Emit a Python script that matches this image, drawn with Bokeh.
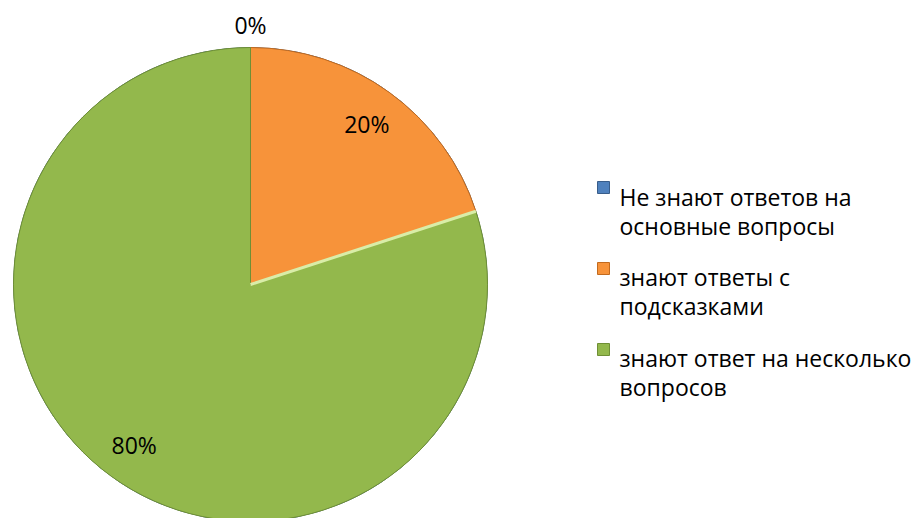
import math
import textwrap
from bokeh.plotting import figure
from bokeh.models import Range1d, ColumnDataSource
from bokeh.core.properties import value
from bokeh.embed import file_html
from bokeh.resources import INLINE

# ---- data ----
categories = [
    "Не знают ответов на основные вопросы",
    "знают ответы с подсказками",
    "знают ответ на несколько вопросов",
]
values = [0, 20, 80]
colors = ["#4F81BD", "#F7933A", "#93B84C"]
edge_colors = ["#385D8A", "#C26A1E", "#6F8F35"]

W, H = 913, 518
CX, CY, R = 250, H - 284, 237
FONT = value("Open Sans")

p = figure(width=W, height=H, x_range=Range1d(0, W), y_range=Range1d(0, H),
           output_backend="svg", toolbar_location=None, min_border=0)
p.axis.visible = False
p.grid.visible = False
p.outline_line_color = None
p.background_fill_color = "white"

total = float(sum(values))
start = math.pi / 2
starts, ends, mids = [], [], []
for v in values:
    sweep = 2 * math.pi * v / total
    starts.append(start)
    ends.append(start - sweep)
    mids.append(start - sweep / 2)
    start -= sweep

src = ColumnDataSource(dict(start=starts, end=ends, color=colors, edge=edge_colors,
                            x=[CX] * 3, y=[CY] * 3))
p.wedge(x="x", y="y", radius=R, start_angle="start", end_angle="end",
        direction="clock", fill_color="color", line_color="edge", line_width=1,
        source=src)

# light bevel highlight along the slice boundary
for a in ends[1:2]:
    p.line([CX, CX + R * math.cos(a)], [CY, CY + R * math.sin(a)],
           line_color="#D9EDA8", line_width=3)

# percentage labels
lx, ly, lt = [], [], []
for v, m in zip(values, mids):
    rr = R * (1.093 if v == 0 else 0.835)
    lx.append(CX + rr * math.cos(m))
    ly.append(CY + rr * math.sin(m))
    lt.append(f"{round(100 * v / total)}%")
p.text(x=lx, y=ly, text=lt, text_font=FONT, text_font_size="23px",
       text_align="center", text_baseline="middle", text_color="#000000")

# legend
tx, ty, tt = [], [], []
mx, my = [], []
for i, cat in enumerate(categories):
    base = H - (196 + i * 80.5)
    mx.append(603)
    my.append(H - (187 + i * 81))
    for j, line in enumerate(textwrap.wrap(cat, 24)):
        tx.append(619)
        ty.append(base - 29 * j)
        tt.append(line)
p.rect(x=mx, y=my, width=12, height=12, fill_color=colors, line_color=edge_colors,
       line_width=1)
p.text(x=tx, y=ty, text=tt, text_font=FONT, text_font_size="23px",
       text_align="left", text_baseline="alphabetic", text_color="#000000")

open("out.html", "w").write(file_html(p, INLINE))
